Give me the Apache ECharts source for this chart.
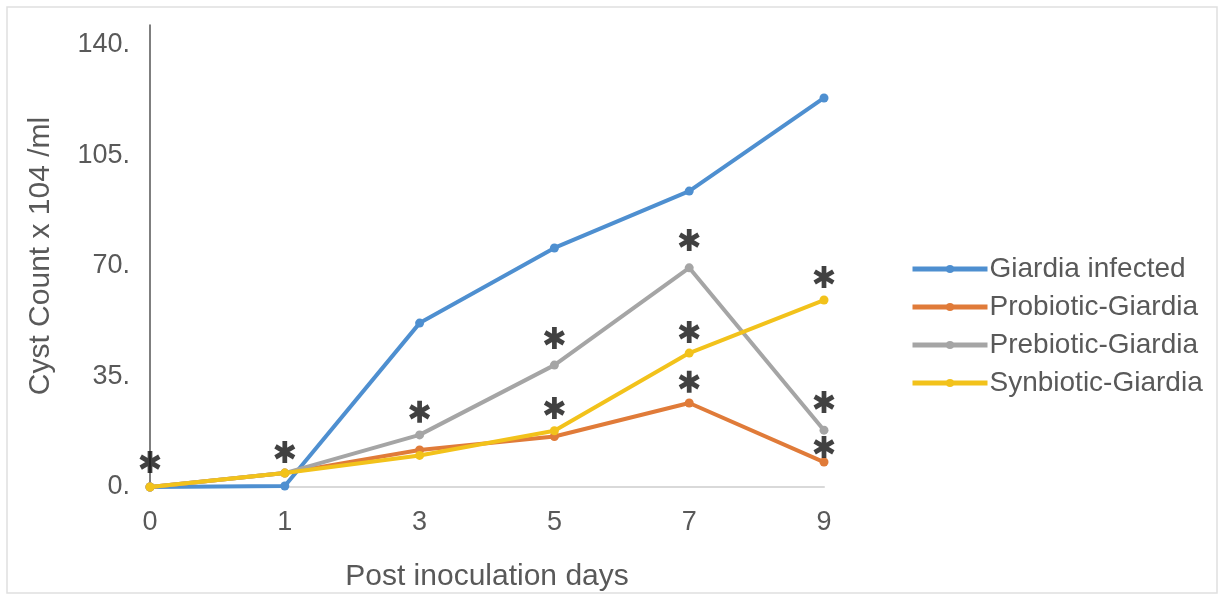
<!DOCTYPE html>
<html>
<head>
<meta charset="utf-8">
<script src="https://cdn.jsdelivr.net/npm/echarts@6/dist/echarts.min.js"></script>
<style>
html,body{margin:0;padding:0;background:#fff;}
#main{width:1223px;height:599px;}
</style>
</head>
<body>
<div id="main"></div>
<script>
// ---- data ----
const days = ['0', '1', '3', '5', '7', '9'];
const giardiaInfected = [0, 0.3, 51.9, 75.7, 93.7, 123.2];
const probioticGiardia = [0, 4.4, 11.7, 16, 26.6, 7.9];
const prebioticGiardia = [0, 4.4, 16.5, 38.6, 69.4, 18];
const synbioticGiardia = [0, 4.4, 10, 17.8, 42.4, 59.2];
const seriesNames = ['Giardia infected', 'Probiotic-Giardia', 'Prebiotic-Giardia', 'Synbiotic-Giardia'];
// significance markers (*) : [day, value]
const asteriskMarks = [
  ['0', 7.9], ['1', 11.1], ['3', 23.8],
  ['5', 47.2], ['5', 25.0],
  ['7', 78.2], ['7', 49.1], ['7', 33.3],
  ['9', 66.5], ['9', 26.9], ['9', 12.7]
];
const yTicks = [0, 35, 70, 105, 140];

const colors = ['#4e8fd0', '#e07b39', '#a5a5a5', '#f2c21b'];
const textColor = '#595959';
const font = 'Liberation Sans, Arial, sans-serif';

const asteriskPath = 'path://M-2.2,-10L2.2,-10L2.2,10L-2.2,10Z' +
  'M-9.76,-3.09L-7.56,-6.91L9.76,3.09L7.56,6.91Z' +
  'M-7.56,6.91L-9.76,3.09L7.56,-6.91L9.76,-3.09Z';

const chart = echarts.init(document.getElementById('main'));
const lineData = [giardiaInfected, probioticGiardia, prebioticGiardia, synbioticGiardia];

const series = lineData.map((d, i) => ({
  name: seriesNames[i],
  type: 'line',
  data: d,
  symbol: 'circle',
  symbolSize: 9,
  lineStyle: { width: 4, color: colors[i] },
  itemStyle: { color: colors[i] },
  z: 2 + i
}));
series.push({
  name: 'sig',
  type: 'scatter',
  data: asteriskMarks,
  symbol: asteriskPath,
  symbolSize: [21, 22],
  itemStyle: { color: '#111' },
  z: 10
});

chart.setOption({
  animation: false,
  backgroundColor: '#fff',
  color: colors,
  graphic: [{
    type: 'rect',
    shape: { x: 7, y: 7, width: 1210, height: 586 },
    style: { fill: 'none', stroke: '#e0e0e0', lineWidth: 1.5 },
    silent: true
  }],
  grid: { left: 150, right: 399, top: 25, bottom: 112, containLabel: false },
  legend: {
    data: seriesNames,
    orient: 'vertical',
    left: 905,
    top: 249,
    itemWidth: 75,
    itemHeight: 10,
    itemGap: 8,
    lineStyle: { width: 5 },
    textStyle: { color: textColor, fontSize: 28, fontFamily: font, lineHeight: 30, padding: [0, 0, 0, -3] }
  },
  xAxis: {
    type: 'category',
    data: days,
    boundaryGap: false,
    name: 'Post inoculation days',
    nameLocation: 'middle',
    nameGap: 75,
    nameTextStyle: { color: textColor, fontSize: 30, fontFamily: font },
    axisLine: { show: true, lineStyle: { color: '#d9d9d9', width: 2 } },
    axisTick: { show: false },
    axisLabel: { color: textColor, fontSize: 27, fontFamily: font, margin: 22 },
    splitLine: { show: false }
  },
  yAxis: {
    type: 'value',
    min: 0,
    max: 146.3,
    interval: 35,
    name: 'Cyst Count x 104 /ml',
    nameLocation: 'middle',
    nameGap: 94,
    nameTextStyle: { color: textColor, fontSize: 30, fontFamily: font },
    axisLine: { show: true, lineStyle: { color: '#555', width: 1.5 } },
    axisTick: { show: false },
    axisLabel: {
      color: textColor, fontSize: 27, fontFamily: font, margin: 20,
      formatter: v => (yTicks.indexOf(v) >= 0 ? v + '.' : '')
    },
    splitLine: { show: false }
  },
  series: series
});
</script>
</body>
</html>
